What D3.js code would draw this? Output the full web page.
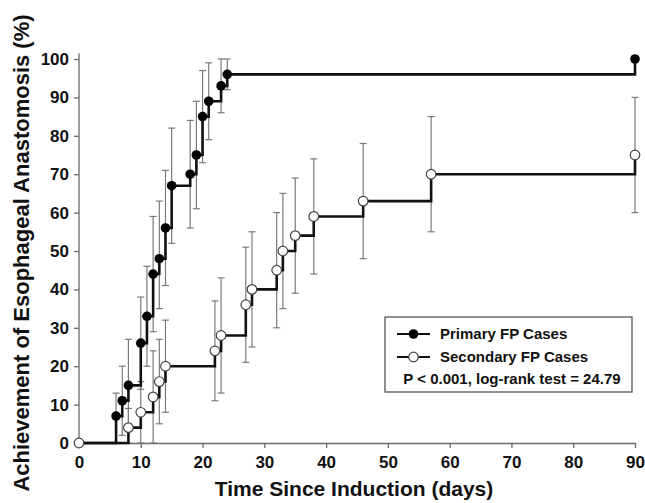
<!DOCTYPE html>
<html>
<head>
<meta charset="utf-8">
<script src="https://cdn.jsdelivr.net/npm/d3@7"></script>
<style>
  html, body { margin: 0; padding: 0; background: #fff; }
  svg { display: block; }
  text { font-family: "Liberation Sans", Arial, sans-serif; font-weight: bold; fill: #111; }
</style>
</head>
<body>
<svg id="chart" width="645" height="503"></svg>
<script>
// ---- data ----
const primaryDays = [0, 6, 7, 8, 10, 11, 12, 13, 14, 15, 18, 19, 20, 21, 23, 24, 90];
const primaryPct  = [0, 7, 11, 15, 26, 33, 44, 48, 56, 67, 70, 75, 85, 89, 93, 96, 100];
const primaryLow  = [null, 0, 2, 4, 14, 20, 29, 35, 41, 52, 56, 61, 73, 79, 86, 92, null];
const primaryHigh = [null, 13, 20, 27, 38, 46, 59, 63, 71, 82, 84, 89, 97, 99, 100, 100, null];

const secondaryDays = [0, 8, 10, 12, 13, 14, 22, 23, 27, 28, 32, 33, 35, 38, 46, 57, 90];
const secondaryPct  = [0, 4, 8, 12, 16, 20, 24, 28, 36, 40, 45, 50, 54, 59, 63, 70, 75];
const secondaryLow  = [null, 0, 0, 0, 5, 8, 11, 13, 21, 25, 30, 35, 39, 44, 48, 55, 60];
const secondaryHigh = [null, 9, 16, 24, 27, 32, 37, 43, 51, 55, 60, 65, 69, 74, 78, 85, 90];

const xTicks = [0, 10, 20, 30, 40, 50, 60, 70, 80, 90];
const yTicks = [0, 10, 20, 30, 40, 50, 60, 70, 80, 90, 100];
const seriesNames = ["Primary FP Cases", "Secondary FP Cases"];
const statText = "P < 0.001, log-rank test = 24.79";
const xTitle = "Time Since Induction (days)";
const yTitle = "Achievement of Esophageal Anastomosis (%)";

// ---- layout ----
const svg = d3.select("#chart");
const x = d3.scaleLinear().domain([0, 90]).range([79, 635]);
const y = d3.scaleLinear().domain([0, 100]).range([443, 59]);

const axisColor = "#6a6a6a";

// axes
const xAxis = svg.append("g").attr("transform", `translate(0,${y(0)})`)
  .call(d3.axisBottom(x).tickValues(xTicks).tickSize(5).tickPadding(8).tickSizeOuter(0));
const yAxis = svg.append("g").attr("transform", `translate(${x(0)},0)`)
  .call(d3.axisLeft(y).tickValues(yTicks).tickSize(5).tickPadding(5).tickSizeOuter(0));
[xAxis, yAxis].forEach(g => {
  g.select(".domain").attr("stroke", axisColor).attr("stroke-width", 1.3);
  g.selectAll(".tick line").attr("stroke", axisColor).attr("stroke-width", 1.3);
  g.selectAll(".tick text").style("font-size", "17px").style("font-weight", "bold")
    .style("font-family", "'Liberation Sans', Arial, sans-serif").attr("fill", "#111");
});
// extend y axis a little above 100
yAxis.select(".domain").attr("d", `M0,${y(0)}V${y(101.5)}`);

// axis titles
svg.append("text").attr("x", 354).attr("y", 496)
  .attr("text-anchor", "middle").style("font-size", "21px").text(xTitle);
svg.append("text").attr("transform", `translate(29,${253}) rotate(-90)`)
  .attr("text-anchor", "middle").style("font-size", "22px").text(yTitle);

function drawSeries(days, pct, low, high) {
  const pts = days.map((d, i) => ({ d, p: pct[i], lo: low[i], hi: high[i] }));
  const eb = pts.filter(p => p.lo !== null);
  const g = svg.append("g");
  // error bars
  g.selectAll("line.v").data(eb).enter().append("line")
    .attr("x1", p => x(p.d)).attr("x2", p => x(p.d))
    .attr("y1", p => y(p.lo)).attr("y2", p => y(p.hi))
    .attr("stroke", "#7a7a7a").attr("stroke-width", 1.2);
  ["lo", "hi"].forEach(k => {
    g.selectAll("line.c" + k).data(eb).enter().append("line")
      .attr("x1", p => x(p.d) - 3.5).attr("x2", p => x(p.d) + 3.5)
      .attr("y1", p => y(p[k])).attr("y2", p => y(p[k]))
      .attr("stroke", "#7a7a7a").attr("stroke-width", 1.2);
  });
  return { g, pts };
}

const prim = drawSeries(primaryDays, primaryPct, primaryLow, primaryHigh);
const sec = drawSeries(secondaryDays, secondaryPct, secondaryLow, secondaryHigh);

const line = d3.line().x(p => x(p.d)).y(p => y(p.p)).curve(d3.curveStepAfter);
[prim, sec].forEach(s => {
  svg.append("path").datum(s.pts).attr("d", line)
    .attr("fill", "none").attr("stroke", "#111").attr("stroke-width", 2.6);
});

// markers
svg.append("g").selectAll("circle").data(prim.pts.slice(1)).enter().append("circle")
  .attr("cx", p => x(p.d)).attr("cy", p => y(p.p)).attr("r", 4.8)
  .attr("fill", "#000");
svg.append("g").selectAll("circle").data(sec.pts).enter().append("circle")
  .attr("cx", p => x(p.d)).attr("cy", p => y(p.p)).attr("r", 4.8)
  .attr("fill", "#fff").attr("stroke", "#444").attr("stroke-width", 1.2);

// legend
const lg = svg.append("g");
const bx = 385, by = 317, bw = 247, bh = 75;
lg.append("rect").attr("x", bx).attr("y", by).attr("width", bw).attr("height", bh)
  .attr("fill", "#fff").attr("stroke", "#555").attr("stroke-width", 1.3);
seriesNames.forEach((name, i) => {
  const ry = by + 17 + i * 23;
  lg.append("line").attr("x1", bx + 12).attr("x2", bx + 45).attr("y1", ry).attr("y2", ry)
    .attr("stroke", "#111").attr("stroke-width", 2);
  lg.append("circle").attr("cx", bx + 28.5).attr("cy", ry).attr("r", 4.8)
    .attr("fill", i === 0 ? "#000" : "#fff").attr("stroke", i === 0 ? "none" : "#444").attr("stroke-width", 1.2);
  lg.append("text").attr("x", bx + 55).attr("y", ry + 5).style("font-size", "15px").text(name);
});
lg.append("text").attr("x", 512).attr("y", by + 66.5).attr("text-anchor", "middle")
  .style("font-size", "15px").text(statText);
</script>
</body>
</html>
